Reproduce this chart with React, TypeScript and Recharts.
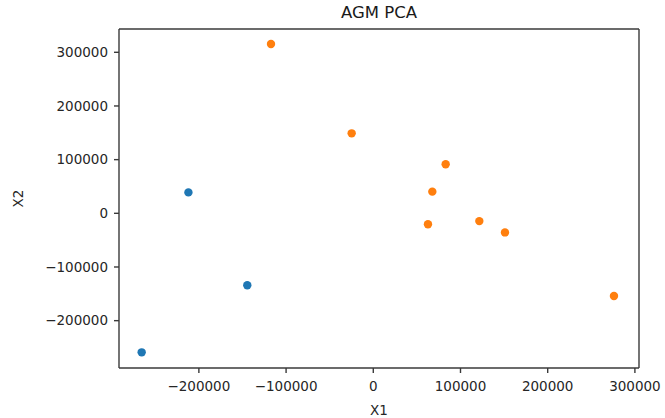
import React from "react";
import { ScatterChart, Scatter, XAxis, YAxis, ReferenceLine } from "recharts";

const clusterAX = [-212000, -144500, -265600];
const clusterAY = [39000, -134000, -259000];
const clusterBX = [-117300, -24800, 83000, 67700, 62700, 121600, 151000, 276000];
const clusterBY = [315500, 149000, 91300, 40400, -20500, -14500, -35600, -154100];
const xTicks = [-200000, -100000, 0, 100000, 200000, 300000];
const yTicks = [-200000, -100000, 0, 100000, 200000, 300000];
const xDomain = [-291600, 304700];
const yDomain = [-288200, 343400];

const dataA = clusterAX.map((x, i) => ({ x, y: clusterAY[i] }));
const dataB = clusterBX.map((x, i) => ({ x, y: clusterBY[i] }));

const FONT = "DejaVu Sans, sans-serif";
const fmt = (v: number) => String(v).replace("-", "\u2212");
const tickStyle = { fontSize: 13.5, fill: "#262626", fontFamily: FONT };
const spine = { stroke: "#3a3a3a", strokeWidth: 1.4 };

const dot = (color: string) => (props: any) =>
  <circle cx={props.cx} cy={props.cy} r={4.2} fill={color} />;

export default function App() {
  return (
    <div style={{ position: "absolute", left: 0, top: 0, width: 665, height: 418, background: "#fff" }}>
      <div
        style={{
          position: "absolute",
          left: 119,
          width: 520,
          top: 3,
          textAlign: "center",
          fontFamily: FONT,
          fontSize: 16.5,
          color: "#1a1a1a",
          lineHeight: "20px",
        }}
      >
        AGM PCA
      </div>
      <ScatterChart width={665} height={418} margin={{ top: 29, right: 26, bottom: 0, left: 0 }}>
        <XAxis
          type="number"
          dataKey="x"
          xAxisId="main"
          domain={xDomain}
          ticks={xTicks}
          tickFormatter={fmt}
          height={50}
          tickSize={5}
          tickMargin={8}
          axisLine={spine}
          tickLine={spine}
          tick={tickStyle}
          allowDataOverflow
          label={(p: any) => {
            const vb = p.viewBox || {};
            return (
              <text x={vb.x + vb.width / 2} y={415} textAnchor="middle" fontFamily={FONT} fontSize={13.5} fill="#262626">
                X1
              </text>
            );
          }}
        />
        <YAxis
          type="number"
          dataKey="y"
          yAxisId="main"
          domain={yDomain}
          ticks={yTicks}
          tickFormatter={fmt}
          width={119}
          tickSize={5}
          tickMargin={6}
          axisLine={spine}
          tickLine={spine}
          tick={tickStyle}
          allowDataOverflow
          label={(p: any) => {
            const vb = p.viewBox || {};
            const cy = vb.y + vb.height / 2;
            return (
              <text
                x={18}
                y={cy}
                transform={`rotate(-90, 18, ${cy})`}
                textAnchor="middle"
                dominantBaseline="central"
                fontFamily={FONT}
                fontSize={13.5}
                fill="#262626"
              >
                X2
              </text>
            );
          }}
        />
        <ReferenceLine xAxisId="main" yAxisId="main" y={yDomain[1]} stroke="#3a3a3a" strokeWidth={1.4} ifOverflow="extendDomain" />
        <ReferenceLine xAxisId="main" yAxisId="main" x={xDomain[1]} stroke="#3a3a3a" strokeWidth={1.4} ifOverflow="extendDomain" />
        <Scatter data={dataA} xAxisId="main" yAxisId="main" fill="#1f77b4" shape={dot("#1f77b4")} isAnimationActive={false} />
        <Scatter data={dataB} xAxisId="main" yAxisId="main" fill="#ff7f0e" shape={dot("#ff7f0e")} isAnimationActive={false} />
      </ScatterChart>
    </div>
  );
}
